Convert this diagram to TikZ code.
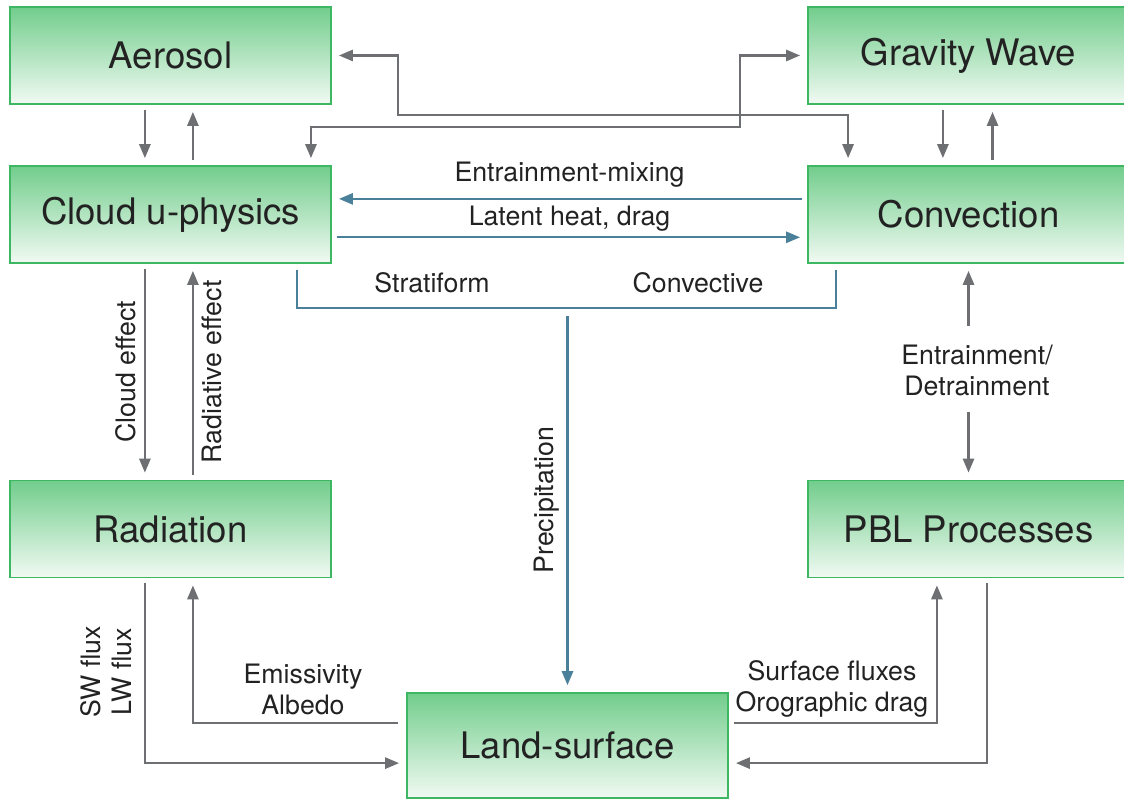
\documentclass[tikz,border=0pt]{standalone}
\usepackage{fontspec}
\setmainfont{TeX Gyre Heros}
\usetikzlibrary{arrows.meta}
\definecolor{boxtop}{HTML}{72CD8C}
\definecolor{boxbot}{HTML}{F1FAF3}
\definecolor{boxline}{HTML}{3DB762}
\definecolor{arrgrey}{HTML}{6E6F72}
\definecolor{arrblue}{HTML}{4B809A}
\definecolor{ink}{HTML}{222222}

\begin{document}
\begin{tikzpicture}[x=0.025cm,y=-0.025cm]
\tikzstyle{comp}=[draw=boxline,line width=1.2pt,top color=boxtop,bottom color=boxbot,minimum width=8.025cm,minimum height=2.425cm,inner sep=0pt,text=ink,font=\fontsize{26}{31}\selectfont];
\tikzstyle{lbl}=[text=ink,font=\fontsize{19}{22}\selectfont,align=center];
\tikzstyle{flow}=[draw=arrgrey,line width=1.6pt,-{Triangle[length=10pt,width=8pt]},shorten >=5pt,shorten <=3.5pt];
\tikzstyle{biflow}=[flow,{Triangle[length=10pt,width=8pt]}-{Triangle[length=10pt,width=8pt]},shorten <=5pt];
\tikzstyle{mass}=[flow,draw=arrblue];
\tikzstyle{massline}=[draw=arrblue,line width=1.6pt];
\useasboundingbox (0,0) rectangle (1124,800);

% boxes
\node [comp] (aerosol) at (170.5,55.5) {Aerosol};
\node [comp] (cloud) at (170.5,214.5) {Cloud u-physics};
\node [comp] (radiation) at (170.5,529) {Radiation};
\node [comp] (gravity) at (968.5,55.5) {Gravity Wave};
\node [comp] (convection) at (968.5,214.5) {Convection};
\node [comp] (pbl) at (968.5,529) {PBL Processes};
\node [comp,minimum height=2.625cm] (land) at (567.5,745.5) {Land-surface};

% top row
\draw [flow] ([xshift=-0.64cm]aerosol.south) -- ([xshift=-0.64cm]cloud.north);
\draw [flow] ([xshift=0.56cm]cloud.north) -- ([xshift=0.56cm]aerosol.south);
\draw [flow] ([xshift=-0.64cm]gravity.south) -- ([xshift=-0.64cm]convection.north);
\draw [flow] ([xshift=0.6cm]convection.north) -- ([xshift=0.6cm]gravity.south);
\draw [biflow] ([xshift=-3.01cm]convection.north) |- (398,115) |- (aerosol.east);
\draw [biflow] (gravity.west) -| (740,127) -| ([xshift=3.51cm]cloud.north);

% cloud / convection
\draw [mass] ([yshift=0.39cm]convection.west) -- ([yshift=0.39cm]cloud.east)
  node [lbl,midway,above=4pt] {Entrainment-mixing};
\draw [mass] ([yshift=-0.57cm]cloud.east) -- ([yshift=-0.57cm]convection.west)
  node [lbl,midway,above=0pt] {Latent heat, drag};
\coordinate (precip) at (567.5,308);
\draw [massline] ([xshift=3.16cm,yshift=-0.15cm]cloud.south) |- (precip) -| ([xshift=-3.31cm,yshift=-0.15cm]convection.south);
\node [lbl] at (432,283) {Stratiform};
\node [lbl] at (698,283) {Convective};
\draw [mass,shorten <=6pt] (precip) -- (land.north)
  node [lbl,midway,rotate=90,above=2pt] {Precipitation};

% left column
\draw [flow] ([xshift=-0.64cm]cloud.south) -- ([xshift=-0.64cm]radiation.north)
  node [lbl,midway,rotate=90,above=2pt] {Cloud effect};
\draw [flow] ([xshift=0.56cm]radiation.north) -- ([xshift=0.56cm]cloud.south)
  node [lbl,midway,rotate=90,below=2pt] {Radiative effect};

% right column
\node [lbl] (entr) at (977,370) {Entrainment/\\Detrainment};
\draw [flow,shorten <=10pt] (entr.north -| convection.south) -- (convection.south);
\draw [flow,shorten <=8pt] (entr.south -| pbl.north) -- (pbl.north);

% bottom
\draw [flow] ([xshift=-0.64cm]radiation.south) |- ([yshift=-0.44cm]land.west);
\draw [flow,shorten <=6pt] ([yshift=0.56cm]land.west) -| ([xshift=0.56cm]radiation.south);
\node [lbl,rotate=90] at (106,672) {SW flux\\LW flux};
\node [lbl] at (303,689) {Emissivity\\Albedo};
\draw [flow] ([yshift=0.56cm]land.east) -| ([xshift=-0.79cm]pbl.south);
\draw [flow] ([xshift=0.46cm]pbl.south) |- ([yshift=-0.44cm]land.east);
\node [lbl] at (832,689) {Surface fluxes\\Orographic drag};
\end{tikzpicture}
\end{document}
